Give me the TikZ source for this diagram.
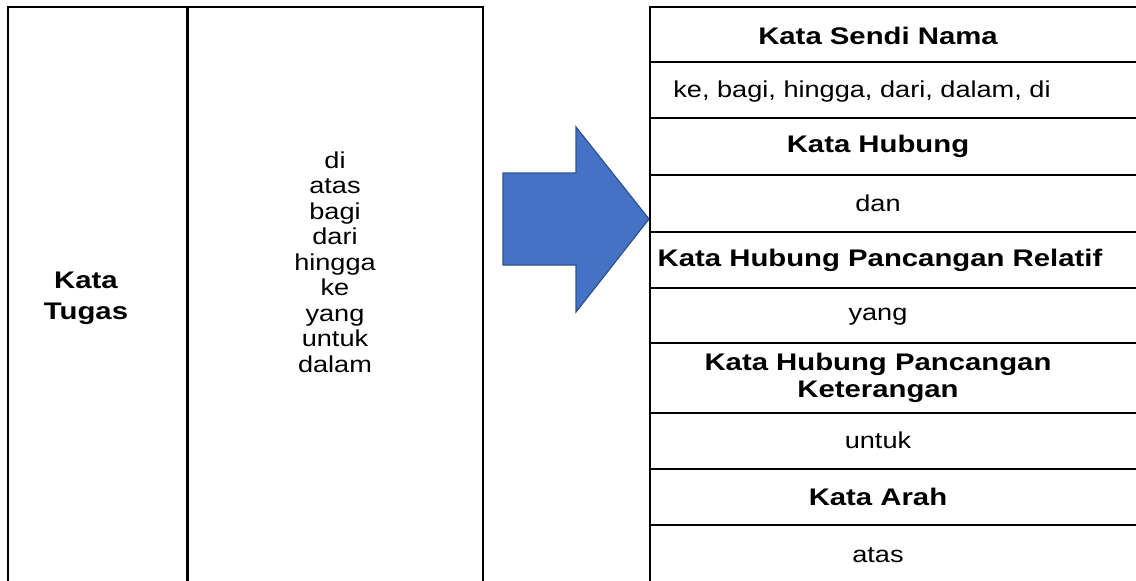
\documentclass[tikz,border=0pt]{standalone}
\usepackage{fontspec}
\setmainfont{Liberation Sans}
\definecolor{arrowblue}{HTML}{4472C4}
\definecolor{arrowedge}{HTML}{2F528F}

\begin{document}
\begin{tikzpicture}[x=1pt,y=1pt,
    rule/.style={line width=2.5pt},
    cell/.style={font=\fontsize{23}{25.5}\selectfont,xscale=1.18,transform shape,inner sep=0pt,align=center},
    head/.style={cell,xscale=1.035,font=\fontsize{24}{27}\selectfont\bfseries},
    blockarrow/.style={fill=arrowblue,draw=arrowedge,line width=1.2pt,line join=miter}]
    \useasboundingbox (0,0) rectangle (1136,-581);

    \draw[rule] (8,-581) |- (483,-7) -- (483,-581);
    \draw[rule] (187.5,-7) -- (187.5,-581);
    \node[head,font=\fontsize{24}{31}\selectfont\bfseries] (tugas) at (86,-298) {Kata\\Tugas};
    \node[cell] (senarai) at (335,-262) {di\\atas\\bagi\\dari\\hingga\\ke\\yang\\untuk\\dalam};

    \draw[blockarrow] (503,-173) -- (576,-173) -- (576,-127) -- (649,-219) -- (576,-312) -- (576,-265) -- (503,-265) -- cycle;

    \draw[rule] (1136,-7) -| (650,-581);
    \foreach \y in {62,118,175,232,288,343,413,469,525}
        \draw[rule] (650,-\y) -- (1136,-\y);

    \node[head] (sendi) at (878,-36) {Kata Sendi Nama};
    \node[cell] (sendiisi) at (862,-92) {ke, bagi, hingga, dari, dalam, di};
    \node[head] (hubung) at (878,-146) {Kata Hubung};
    \node[cell] (hubungisi) at (878,-203) {dan};
    \node[head] (relatif) at (880,-260) {Kata Hubung Pancangan Relatif};
    \node[cell] (relatifisi) at (878,-317) {yang};
    \node[head] (keterangan) at (878,-378) {Kata Hubung Pancangan\\Keterangan};
    \node[cell] (keteranganisi) at (878,-440) {untuk};
    \node[head] (arah) at (878,-497) {Kata Arah};
    \node[cell] (arahisi) at (878,-555) {atas};
\end{tikzpicture}
\end{document}
